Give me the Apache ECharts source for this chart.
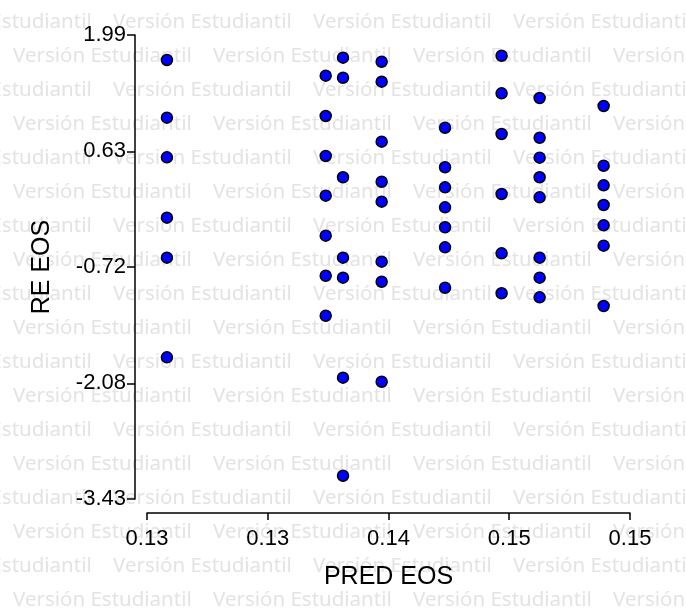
<!DOCTYPE html>
<html>
<head>
<meta charset="utf-8">
<script src="https://cdn.jsdelivr.net/npm/echarts@6/dist/echarts.min.js"></script>
<style>
  html, body { margin: 0; padding: 0; background: #ffffff; }
  #chart { width: 686px; height: 609px; }
</style>
</head>
<body>
<div id="chart"></div>
<script>
// Predicted vs. residual EOS values, one point per observation
const predEos = [
  0.12899, 0.12899, 0.12899, 0.12899, 0.12899, 0.12899,
  0.13688, 0.13688, 0.13688, 0.13688, 0.13688, 0.13688, 0.13688,
  0.13774, 0.13774, 0.13774, 0.13774, 0.13774, 0.13774, 0.13774,
  0.13966, 0.13966, 0.13966, 0.13966, 0.13966, 0.13966, 0.13966, 0.13966,
  0.14281, 0.14281, 0.14281, 0.14281, 0.14281, 0.14281, 0.14281,
  0.14562, 0.14562, 0.14562, 0.14562, 0.14562, 0.14562,
  0.14751, 0.14751, 0.14751, 0.14751, 0.14751, 0.14751, 0.14751, 0.14751,
  0.15069, 0.15069, 0.15069, 0.15069, 0.15069, 0.15069, 0.15069
];
const reEos = [
  1.698, 1.024, 0.561, -0.144, -0.611, -1.775,
  1.515, 1.044, 0.577, 0.113, -0.354, -0.822, -1.289,
  1.725, 1.491, 0.328, -0.611, -0.845, -2.013, -3.158,
  1.678, 1.445, 0.744, 0.276, 0.043, -0.658, -0.892, -2.060,
  0.907, 0.445, 0.211, -0.023, -0.256, -0.490, -0.962,
  1.748, 1.309, 0.834, 0.133, -0.560, -1.027,
  1.254, 0.790, 0.557, 0.328, 0.094, -0.611, -0.845, -1.074,
  1.161, 0.463, 0.234, 0.004, -0.233, -0.471, -1.176
];

// Axis ticks and their printed labels
const xTicks = [0.128, 0.134, 0.140, 0.146, 0.152];
const xTickLabels = ['0.13', '0.13', '0.14', '0.15', '0.15'];
const yTicks = [-3.43, -2.08, -0.72, 0.63, 1.99];
const yTickLabels = ['-3.43', '-2.08', '-0.72', '0.63', '1.99'];

const xName = 'PRED EOS';
const yName = 'RE EOS';
const stampText = 'Versión Estudiantil';

const points = predEos.map((x, i) => [x, reEos[i]]);

// Light repeated "student version" stamp behind the plot
const stamp = [];
for (let row = 0; row < 18; row++) {
  const y = 22 + row * 34;
  const start = row % 2 === 0 ? -87 : 13;
  for (let x = start; x < 686; x += 200) {
    stamp.push({
      type: 'text',
      x: x,
      y: y,
      z: -10,
      silent: true,
      style: {
        text: stampText,
        fill: '#e3e3e3',
        font: '20.5px "Noto Sans", sans-serif',
        textAlign: 'left',
        textVerticalAlign: 'middle'
      }
    });
  }
}

const fontFam = '"Liberation Sans", Arial, sans-serif';
const labelOf = (ticks, labels) => (v) => labels[ticks.findIndex(t => Math.abs(t - v) < 1e-9)];

const chart = echarts.init(document.getElementById('chart'), null, { renderer: 'canvas' });
chart.setOption({
  animation: false,
  backgroundColor: '#ffffff',
  graphic: stamp,
  grid: {
    left: 147, right: 56, top: 35, bottom: 110,
    containLabel: false,
    outerBoundsMode: 'none'
  },
  xAxis: {
    type: 'value',
    min: xTicks[0],
    max: xTicks[xTicks.length - 1],
    offset: 14,
    name: xName,
    nameLocation: 'middle',
    nameGap: 52,
    nameTextStyle: { color: '#000', fontSize: 25, fontFamily: fontFam },
    axisLine: { show: true, onZero: false, lineStyle: { color: '#000', width: 1.5 } },
    axisTick: { show: true, length: 7, customValues: xTicks, lineStyle: { color: '#000', width: 1.5 } },
    axisLabel: {
      customValues: xTicks,
      margin: 15,
      color: '#000',
      fontSize: 22,
      fontFamily: fontFam,
      formatter: labelOf(xTicks, xTickLabels)
    },
    splitLine: { show: false }
  },
  yAxis: {
    type: 'value',
    min: yTicks[0],
    max: yTicks[yTicks.length - 1],
    offset: 12,
    name: yName,
    nameLocation: 'middle',
    nameGap: 80,
    nameTextStyle: { color: '#000', fontSize: 25, fontFamily: fontFam },
    axisLine: { show: true, onZero: false, lineStyle: { color: '#000', width: 1.5 } },
    axisTick: { show: true, length: 8, customValues: yTicks, lineStyle: { color: '#000', width: 1.5 } },
    axisLabel: {
      customValues: yTicks,
      margin: 9,
      color: '#000',
      fontSize: 22,
      fontFamily: fontFam,
      formatter: labelOf(yTicks, yTickLabels)
    },
    splitLine: { show: false }
  },
  series: [{
    type: 'scatter',
    data: points,
    symbol: 'circle',
    symbolSize: 11,
    itemStyle: { color: '#0000ff', borderColor: '#000', borderWidth: 1.5, opacity: 1 },
    z: 5
  }]
});
</script>
</body>
</html>
